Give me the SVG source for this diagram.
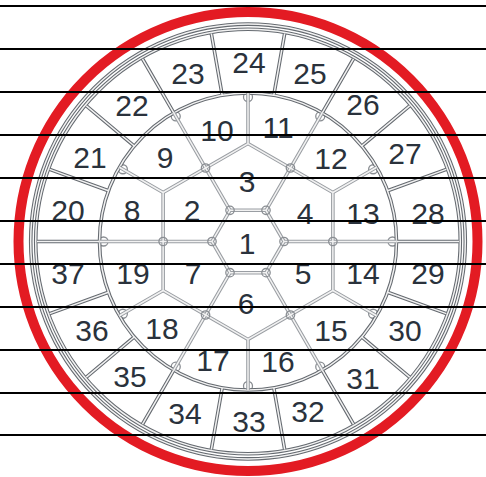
<svg xmlns="http://www.w3.org/2000/svg" xmlns:xlink="http://www.w3.org/1999/xlink" width="486" height="477" viewBox="0 0 486 477">
<style>
.lo{fill:none;stroke:#9a9ea3;stroke-width:3.6}
.li{fill:none;stroke:#f2f2f2;stroke-width:1.5}
.do{fill:none;stroke:#656a70;stroke-width:3.6}
.di{fill:none;stroke:#f2f2f2;stroke-width:1.5}
.jn{fill:none;stroke:#8a8e93;stroke-width:1.3}
.bp{fill:#fff;stroke:#8a8e93;stroke-width:1.3}
.lb{font-family:"Liberation Sans",Arial,sans-serif;font-size:30px;fill:#2a323c;text-anchor:middle}
.hl{stroke:#000;stroke-width:2.2}
</style>
<defs>
<path id="hx" d="M284,241.5 L266,210.32 L230,210.32 L212,241.5 L230,272.68 L266,272.68 Z M332.87,192.5 L248,143.5 L163.13,192.5 L163.13,290.5 L248,339.5 L332.87,290.5 Z M284,241.5 L396.5,241.5 M266,210.32 L322.25,112.9 M230,210.32 L173.75,112.9 M212,241.5 L99.5,241.5 M230,272.68 L173.75,370.1 M266,272.68 L322.25,370.1 M332.87,192.5 L376.6,167.25 M248,143.5 L248,93 M163.13,192.5 L119.4,167.25 M163.13,290.5 L119.4,315.75 M248,339.5 L248,390 M332.87,290.5 L376.6,315.75"/>
<path id="ot" d="M396.5,241.5 L459,241.5 M387.54,190.71 L446.28,169.34 M361.75,146.05 L409.63,105.87 M322.25,112.9 L353.5,58.77 M273.79,95.26 L284.63,33.71 M222.21,95.26 L211.37,33.71 M173.75,112.9 L142.5,58.77 M134.25,146.05 L86.37,105.87 M108.46,190.71 L49.72,169.34 M99.5,241.5 L37,241.5 M108.46,292.29 L49.72,313.66 M134.25,336.95 L86.37,377.13 M173.75,370.1 L142.5,424.23 M222.21,387.74 L211.37,449.29 M273.79,387.74 L284.63,449.29 M322.25,370.1 L353.5,424.23 M361.75,336.95 L409.63,377.13 M387.54,292.29 L446.28,313.66 M396.5,241.5 A148.5,148.5 0 1 0 99.5,241.5 A148.5,148.5 0 1 0 396.5,241.5 Z M460.3,241.5 A212.3,212.3 0 1 0 35.7,241.5 A212.3,212.3 0 1 0 460.3,241.5 Z M465.3,241.5 A217.3,217.3 0 1 0 30.7,241.5 A217.3,217.3 0 1 0 465.3,241.5 Z"/>
</defs>
<rect width="486" height="477" fill="#fff"/>
<circle cx="248" cy="241.5" r="229.5" fill="none" stroke="#e31b23" stroke-width="10"/>
<g id="connectors">
<g id="bumps">
<circle class="bp" cx="392.5" cy="241.5" r="4.5"/><circle class="bp" cx="373.14" cy="169.25" r="4.5"/><circle class="bp" cx="320.25" cy="116.36" r="4.5"/><circle class="bp" cx="248" cy="97" r="4.5"/><circle class="bp" cx="175.75" cy="116.36" r="4.5"/><circle class="bp" cx="122.86" cy="169.25" r="4.5"/><circle class="bp" cx="103.5" cy="241.5" r="4.5"/><circle class="bp" cx="122.86" cy="313.75" r="4.5"/><circle class="bp" cx="175.75" cy="366.64" r="4.5"/><circle class="bp" cx="248" cy="386" r="4.5"/><circle class="bp" cx="320.25" cy="366.64" r="4.5"/><circle class="bp" cx="373.14" cy="313.75" r="4.5"/>
</g>
<use xlink:href="#ot" class="do"/>
<use xlink:href="#ot" class="di"/>
<use xlink:href="#hx" class="lo"/>
<use xlink:href="#hx" class="li"/>
<g id="junctions">
<circle class="jn" cx="284" cy="241.5" r="4.2"/><circle class="jn" cx="266" cy="210.32" r="4.2"/><circle class="jn" cx="230" cy="210.32" r="4.2"/><circle class="jn" cx="212" cy="241.5" r="4.2"/><circle class="jn" cx="230" cy="272.68" r="4.2"/><circle class="jn" cx="266" cy="272.68" r="4.2"/>
<circle class="jn" cx="332.87" cy="241.5" r="4.2"/><circle class="jn" cx="290.44" cy="168" r="4.2"/><circle class="jn" cx="205.56" cy="168" r="4.2"/><circle class="jn" cx="163.13" cy="241.5" r="4.2"/><circle class="jn" cx="205.56" cy="315" r="4.2"/><circle class="jn" cx="290.44" cy="315" r="4.2"/>
</g>
</g>
<g id="n1"><text class="lb" x="247" y="254">1</text></g>
<g id="n2"><text class="lb" x="192" y="221">2</text></g>
<g id="n3"><text class="lb" x="247" y="192">3</text></g>
<g id="n4"><text class="lb" x="305" y="224">4</text></g>
<g id="n5"><text class="lb" x="303" y="284">5</text></g>
<g id="n6"><text class="lb" x="246" y="314">6</text></g>
<g id="n7"><text class="lb" x="193" y="284">7</text></g>
<g id="n8"><text class="lb" x="132" y="221">8</text></g>
<g id="n9"><text class="lb" x="165" y="168">9</text></g>
<g id="n10"><text class="lb" x="217" y="141">10</text></g>
<g id="n11"><text class="lb" x="278" y="138">11</text></g>
<g id="n12"><text class="lb" x="331" y="169">12</text></g>
<g id="n13"><text class="lb" x="363" y="224">13</text></g>
<g id="n14"><text class="lb" x="363" y="284">14</text></g>
<g id="n15"><text class="lb" x="331" y="341">15</text></g>
<g id="n16"><text class="lb" x="278" y="372">16</text></g>
<g id="n17"><text class="lb" x="213" y="371">17</text></g>
<g id="n18"><text class="lb" x="162" y="339">18</text></g>
<g id="n19"><text class="lb" x="133" y="284">19</text></g>
<g id="n20"><text class="lb" x="68" y="221">20</text></g>
<g id="n21"><text class="lb" x="90" y="168">21</text></g>
<g id="n22"><text class="lb" x="132" y="116">22</text></g>
<g id="n23"><text class="lb" x="188" y="84">23</text></g>
<g id="n24"><text class="lb" x="249" y="73">24</text></g>
<g id="n25"><text class="lb" x="310" y="84">25</text></g>
<g id="n26"><text class="lb" x="363" y="115">26</text></g>
<g id="n27"><text class="lb" x="405" y="164">27</text></g>
<g id="n28"><text class="lb" x="428" y="224">28</text></g>
<g id="n29"><text class="lb" x="428" y="284">29</text></g>
<g id="n30"><text class="lb" x="405" y="341">30</text></g>
<g id="n31"><text class="lb" x="363" y="389">31</text></g>
<g id="n32"><text class="lb" x="308" y="422">32</text></g>
<g id="n33"><text class="lb" x="249" y="432">33</text></g>
<g id="n34"><text class="lb" x="185" y="424">34</text></g>
<g id="n35"><text class="lb" x="130" y="387">35</text></g>
<g id="n36"><text class="lb" x="92" y="341">36</text></g>
<g id="n37"><text class="lb" x="68" y="284">37</text></g>
<g id="hlines">
<line class="hl" x1="0" y1="6" x2="486" y2="6"/>
<line class="hl" x1="0" y1="49" x2="486" y2="49"/>
<line class="hl" x1="0" y1="92" x2="486" y2="92"/>
<line class="hl" x1="0" y1="135" x2="486" y2="135"/>
<line class="hl" x1="0" y1="178" x2="486" y2="178"/>
<line class="hl" x1="0" y1="221" x2="486" y2="221"/>
<line class="hl" x1="0" y1="264" x2="486" y2="264"/>
<line class="hl" x1="0" y1="307" x2="486" y2="307"/>
<line class="hl" x1="0" y1="350" x2="486" y2="350"/>
<line class="hl" x1="0" y1="393" x2="486" y2="393"/>
<line class="hl" x1="0" y1="435" x2="486" y2="435"/>
</g>
</svg>
